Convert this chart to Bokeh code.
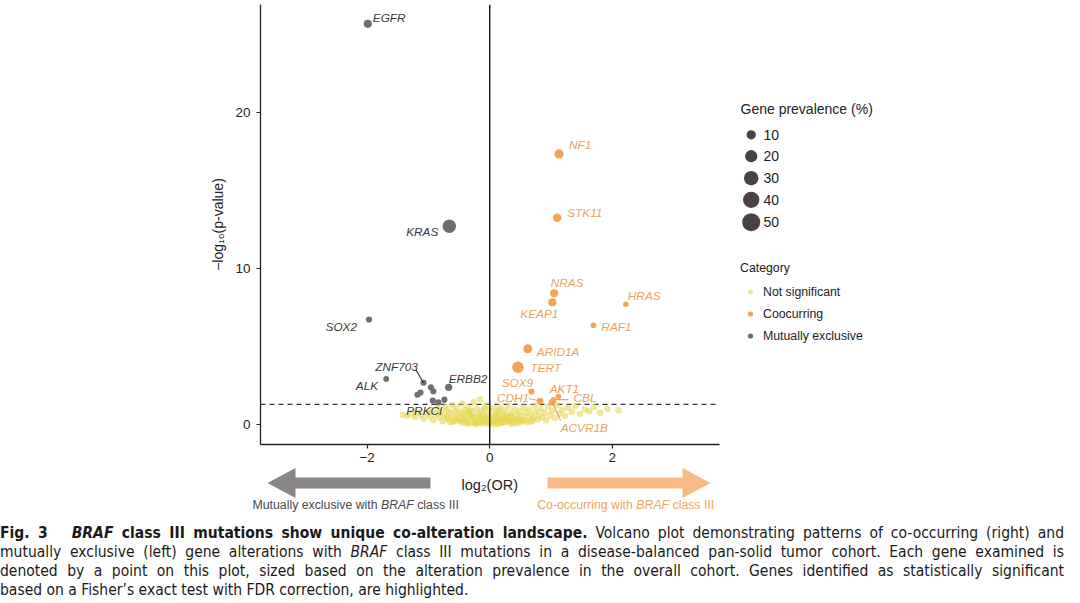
import math
from bokeh.plotting import figure
from bokeh.models import (Range1d, Span, Legend, LegendItem, ColumnDataSource,
                          Div, FixedTicker)
from bokeh.layouts import column
from bokeh.embed import file_html
from bokeh.resources import INLINE
from bokeh.core.properties import value

# ---------------- data ----------------
# mutually exclusive (grey) genes ("" = unlabeled)
mx_genes = ["EGFR", "KRAS", "SOX2", "ALK", "ERBB2", "ZNF703", "PRKCI", "", "", "", "", "", ""]
mx_log2or = [-1.99, -0.66, -1.97, -1.69, -0.67, -1.08, -0.84, -0.96, -0.92, -1.13, -1.18, -0.93, -0.74]
mx_logp = [25.72, 12.73, 6.74, 2.93, 2.39, 2.68, 1.43, 2.39, 2.14, 2.05, 1.91, 1.54, 1.60]
mx_prev = [7, 25, 3, 2.5, 5, 3, 3, 3, 3, 3, 3, 3, 3]

# co-occurring (orange) genes
co_genes = ["NF1", "STK11", "NRAS", "KEAP1", "HRAS", "RAF1", "ARID1A", "TERT",
            "SOX9", "CDH1", "AKT1", "CBL", "ACVR1B"]
co_log2or = [1.13, 1.10, 1.05, 1.02, 2.22, 1.69, 0.62, 0.46, 0.68, 0.82, 1.12, 1.04, 1.02]
co_logp = [17.37, 13.27, 8.43, 7.85, 7.72, 6.37, 4.86, 3.68, 2.12, 1.51, 1.80, 1.60, 1.43]
co_prev = [10, 8, 7, 7, 2, 2.5, 9, 17, 3, 4, 2, 2, 4]

# not significant genes
ns_log2or = [-1.42, -1.35, -1.28, -1.22, -1.18, -1.12, -1.08, -1.02, -0.98, -0.95, -0.92, -0.88,
             -0.85, -0.82, -0.80, -0.77, -0.74, -0.72, -0.70, -0.68, -0.66, -0.63, -0.61, -0.60,
             -0.58, -0.55, -0.53, -0.51, -0.49, -0.47, -0.45, -0.43, -0.41, -0.40, -0.38, -0.36,
             -0.34, -0.32, -0.30, -0.28, -0.26, -0.25, -0.23, -0.21, -0.19, -0.17, -0.16, -0.14,
             -0.12, -0.10, -0.08, -0.07, -0.05, -0.03, -0.02, 0.00, 0.02, 0.04, 0.06, 0.08, 0.10,
             0.12, 0.14, 0.16, 0.18, 0.20, 0.22, 0.24, 0.26, 0.28, 0.30, 0.32, 0.34, 0.36, 0.38,
             0.40, 0.42, 0.44, 0.46, 0.48, 0.50, 0.52, 0.55, 0.57, 0.59, 0.62, 0.64, 0.66, 0.68,
             0.71, 0.73, 0.75, 0.78, 0.80, 0.83, 0.86, 0.89, 0.92, 0.95, 0.98, 1.02, 1.06, 1.10,
             1.14, 1.18, 1.23, 1.28, 1.34, 1.40, 1.47, 1.55, 1.62, 1.70, 1.80, 1.92, 2.10,
             -0.35, -0.22, -0.12, -0.04, 0.05, 0.13, 0.21, 0.27, 0.33, 0.09, -0.18, -0.28, -0.42,
             0.43, 0.53, 0.15, -0.09, -0.31, -0.55, 0.60, 0.70, -0.65,
             -0.48, -0.37, -0.24, -0.11, 0.01, 0.11, 0.19, 0.31, 0.39, 0.49, -0.57, -0.71,
             -0.15, 0.25, 0.35, -0.44, 0.07, -0.01, 0.17, -0.33]
ns_logp = [0.62, 0.55, 0.70, 0.48, 0.80, 0.60, 0.38, 0.72, 0.52, 0.90, 0.30, 0.66,
           1.05, 0.45, 0.80, 0.22, 0.60, 1.15, 0.92, 0.35, 0.75, 0.50, 1.25, 0.18,
           0.88, 0.62, 1.05, 0.30, 0.78, 0.45, 1.35, 0.12, 0.95, 0.60, 0.28, 1.12,
           0.72, 0.40, 0.90, 0.10, 1.45, 0.55, 0.25, 1.00, 0.70, 0.38, 1.62, 0.08,
           0.85, 0.50, 0.22, 1.20, 0.62, 0.05, 0.35, 0.90, 0.15, 0.55, 1.05, 0.02, 0.30,
           0.75, 0.48, 1.12, 0.10, 0.62, 0.35, 0.92, 0.18, 0.50, 1.18, 0.28, 0.72, 0.05, 0.45,
           0.98, 0.22, 0.65, 0.38, 0.85, 0.12, 0.55, 1.10, 0.30, 0.75, 0.48, 0.95, 0.20, 0.62,
           0.40, 1.20, 0.80, 0.32, 0.58, 1.02, 0.45, 0.75, 0.28, 1.15, 0.60, 0.88, 0.42, 1.25,
           0.70, 0.95, 0.55, 1.08, 0.80, 1.20, 0.68, 0.98, 0.85, 1.12, 0.75, 1.00, 0.92,
           0.05, 0.02, 0.30, 0.45, 0.25, 0.05, 0.12, 0.40, 0.15, 0.65, 0.15, 0.48, 0.35,
           0.08, 0.25, 0.85, 1.00, 0.65, 0.40, 0.15, 0.25, 0.15,
           0.20, 0.15, 0.10, 0.12, 0.08, 0.20, 0.30, 0.22, 0.30, 0.35, 0.25, 0.45,
           0.55, 0.60, 0.55, 0.70, 0.40, 0.20, 0.32, 0.85]

sig_p = 0.05
x_ticks = [-2, 0, 2]
x_tick_labels = ["\u22122", "0", "2"]
y_ticks = [0, 10, 20]
y_tick_labels = ["0", "10", "20"]
size_legend_values = [10, 20, 30, 40, 50]
category_labels = ["Not significant", "Coocurring", "Mutually exclusive"]

caption_lines = [
    '<b>Fig. 3</b>&nbsp;&nbsp;&nbsp;<b><i>BRAF</i> class III mutations show unique co-alteration landscape.</b> '
    'Volcano plot demonstrating patterns of co-occurring (right) and',
    'mutually exclusive (left) gene alterations with <i>BRAF</i> class III mutations in a disease-balanced '
    'pan-solid tumor cohort. Each gene examined is',
    'denoted by a point on this plot, sized based on the alteration prevalence in the overall cohort. '
    'Genes identified as statistically significant',
    'based on a Fisher\u2019s exact test with FDR correction, are highlighted.',
]

# ---------------- label styling (pixel offsets from points) ----------------
# gene: (align, dx, dy, leader_dx, leader_dy)
label_style = {
    "EGFR": ("left", 5, -6, None, None),
    "KRAS": ("right", -11, 6, None, None),
    "SOX2": ("right", -12, 7, None, None),
    "ALK": ("right", -8, 7, None, None),
    "ERBB2": ("left", 0, -8, None, None),
    "ZNF703": ("center", -27, -16, -7.7, -13),
    "PRKCI": ("center", -14, 9, None, None),
    "NF1": ("left", 10, -9, None, None),
    "STK11": ("left", 10, -5, None, None),
    "NRAS": ("center", 13, -10, None, None),
    "KEAP1": ("center", -13, 12, None, None),
    "HRAS": ("left", 2, -8, None, None),
    "RAF1": ("left", 8, 2, None, None),
    "ARID1A": ("left", 9, 3.5, None, None),
    "TERT": ("left", 12.5, 1, None, None),
    "SOX9": ("center", -14, -9, None, None),
    "CDH1": ("left", -43, -3, -11, -2.5),
    "AKT1": ("center", 6, -8, None, None),
    "CBL": ("left", 20, -2, 15, 0),
    "ACVR1B": ("center", 32, 26, 8.3, 18.3),
}

# ---------------- geometry ----------------
FONT = "Liberation Sans"
W = 1064
BORDER_LEFT = 260
BORDER_TOP = 4
FRAME_LEFT_PAGE = 260
FRAME_BOTTOM_PAGE = 444
PPX = 61.3      # px per log2(OR) unit
PPY = 15.58     # px per -log10 p unit
X_MIN = -3.74
X_AXIS_MAX = 3.74
X_MAX = X_MIN + (W - BORDER_LEFT) / PPX
A_H = 467
FRAME_H = FRAME_BOTTOM_PAGE - BORDER_TOP
Y_MIN = -1.28
Y_MAX = Y_MIN + FRAME_H / PPY


def px2x(px):
    return X_MIN + (px - FRAME_LEFT_PAGE) / PPX


def py2y(py):
    return Y_MIN + (FRAME_BOTTOM_PAGE - py) / PPY


def prev_size(v):
    return 2.3 + 2.22 * math.sqrt(v)


GREY = "#6E6E6E"
ORANGE = "#F3A457"
YELLOW = "#E6D54A"
GREY_TXT = "#3A3A3A"
ORANGE_TXT = "#EDA25C"

p = figure(width=W, height=A_H, x_range=Range1d(X_MIN, X_MAX), y_range=Range1d(Y_MIN, Y_MAX),
           output_backend="svg", toolbar_location=None, tools="",
           min_border_left=BORDER_LEFT, min_border_right=0, min_border_top=BORDER_TOP,
           min_border_bottom=A_H - FRAME_BOTTOM_PAGE)
p.frame_align = False
p.outline_line_color = None
p.xgrid.visible = False
p.ygrid.visible = False
p.background_fill_color = "white"
p.border_fill_color = "white"

for ax in (p.xaxis[0], p.yaxis[0]):
    ax.axis_line_color = "#222222"
    ax.axis_line_width = 1.3
    ax.major_tick_line_color = "#222222"
    ax.major_tick_line_width = 1.2
    ax.major_tick_out = 4
    ax.major_tick_in = 0
    ax.minor_tick_line_color = None
    ax.major_label_text_font = FONT
    ax.major_label_text_font_size = "13.5px"
    ax.major_label_text_color = "#222222"

p.xaxis.ticker = FixedTicker(ticks=x_ticks)
p.xaxis.major_label_overrides = dict(zip(x_ticks, x_tick_labels))
p.xaxis.bounds = (X_MIN, X_AXIS_MAX)
p.xaxis.major_label_standoff = 4

p.yaxis.ticker = FixedTicker(ticks=y_ticks)
p.yaxis.major_label_overrides = dict(zip(y_ticks, y_tick_labels))
p.yaxis.major_label_standoff = 6
p.yaxis.axis_label = "\u2212log\u2081\u2080(p-value)"
p.yaxis.axis_label_text_font = FONT
p.yaxis.axis_label_text_font_size = "14px"
p.yaxis.axis_label_text_font_style = "normal"
p.yaxis.axis_label_text_color = "#222222"
p.yaxis.axis_label_standoff = 6

# reference lines
p.add_layout(Span(location=0, dimension="height", line_color="black", line_width=1.3))
thr = -math.log10(sig_p)
p.segment(x0=[X_MIN], x1=[X_AXIS_MAX], y0=[thr], y1=[thr], line_color="#333333",
          line_width=1.2, line_dash="5 4")

# points
r_ns = p.scatter(ns_log2or, ns_logp, size=6.5, fill_color=YELLOW, fill_alpha=0.55, line_color=None)
r_co = p.scatter(co_log2or, co_logp, size=[prev_size(v) for v in co_prev],
                 fill_color=ORANGE, line_color=None)
r_mx = p.scatter(mx_log2or, mx_logp, size=[prev_size(v) for v in mx_prev],
                 fill_color=GREY, line_color=None)


def add_labels(genes, xs, ys, color):
    groups = {}
    seg = dict(x0=[], y0=[], x1=[], y1=[])
    for g, x, y in zip(genes, xs, ys):
        if not g:
            continue
        align, dx, dy, lx, ly = label_style[g]
        d = groups.setdefault(align, dict(x=[], y=[], t=[], dx=[], dy=[]))
        d["x"].append(x); d["y"].append(y); d["t"].append(g)
        d["dx"].append(dx); d["dy"].append(dy)
        if lx is not None:
            seg["x0"].append(x + lx / PPX); seg["y0"].append(y - ly / PPY)
            seg["x1"].append(x); seg["y1"].append(y)
    if seg["x0"]:
        p.segment(x0="x0", y0="y0", x1="x1", y1="y1", source=ColumnDataSource(seg),
                  line_color=color, line_width=1.2)
    for align, d in groups.items():
        p.text(x="x", y="y", text="t", x_offset="dx", y_offset="dy",
               source=ColumnDataSource(d), text_align=align, text_baseline="middle",
               text_font=value(FONT), text_font_style="italic", text_font_size="11.8px",
               text_color=color)


add_labels(mx_genes, mx_log2or, mx_logp, GREY_TXT)
add_labels(co_genes, co_log2or, co_logp, ORANGE_TXT)

# size legend (drawn in the plot's right-hand area)
leg_rows_py = [134.3, 155.7, 177.7, 199.3, 221.7]
p.text(x=[px2x(740)], y=[py2y(108)], text=["Gene prevalence (%)"], text_align="left",
       text_baseline="middle", text_font=value(FONT), text_font_size="14px", text_color="#222222")
p.scatter([px2x(750.7)] * len(size_legend_values), [py2y(v) for v in leg_rows_py],
          size=[prev_size(v) for v in size_legend_values], fill_color="#4A4242", line_color=None)
p.text(x=[px2x(763)] * len(size_legend_values), y=[py2y(v) for v in leg_rows_py],
       text=[str(v) for v in size_legend_values], text_align="left", text_baseline="middle",
       text_font=value(FONT), text_font_size="14px", text_color="#222222")

# category legend
legend = Legend(items=[LegendItem(label=category_labels[0], renderers=[r_ns]),
                       LegendItem(label=category_labels[1], renderers=[r_co]),
                       LegendItem(label=category_labels[2], renderers=[r_mx])],
                location=(480, 101.5), title="Category")
legend.title_text_font = FONT
legend.title_text_font_size = "12.3px"
legend.title_text_font_style = "normal"
legend.title_text_color = "#222222"
legend.title_standoff = 10
legend.label_text_font = FONT
legend.label_text_font_size = "12.3px"
legend.label_text_color = "#222222"
legend.glyph_width = 20
legend.glyph_height = 13
legend.label_height = 13
legend.label_standoff = 3
legend.spacing = 8
legend.padding = 0
legend.margin = 0
legend.background_fill_alpha = 0
legend.border_line_color = None
p.add_layout(legend)

# ---------------- arrow strip (page-pixel coordinates) ----------------
B_TOP = A_H
B_H = 51
pb = figure(width=W, height=B_H, x_range=Range1d(0, W), y_range=Range1d(B_TOP + B_H, B_TOP),
            output_backend="svg", toolbar_location=None, tools="",
            min_border_left=0, min_border_right=0, min_border_top=0, min_border_bottom=0)
pb.frame_align = False
pb.axis.visible = False
pb.xgrid.visible = False
pb.ygrid.visible = False
pb.outline_line_color = None
pb.background_fill_color = "white"
pb.border_fill_color = "white"

zero_px = FRAME_LEFT_PAGE + (0 - X_MIN) * PPX
cy = 482.5
head_h = 15
body_h = 5.5
tip_l, base_l, inner_l = 267, 295, 430
tip_r, base_r, inner_r = 710, 682, 547
pb.patch([tip_l, base_l, base_l, inner_l, inner_l, base_l, base_l],
         [cy, cy - head_h, cy - body_h, cy - body_h, cy + body_h, cy + body_h, cy + head_h],
         fill_color="#8B8686", line_color=None)
pb.patch([tip_r, base_r, base_r, inner_r, inner_r, base_r, base_r],
         [cy, cy - head_h, cy - body_h, cy - body_h, cy + body_h, cy + body_h, cy + head_h],
         fill_color="#F8BA84", line_color=None)

pb.text(x=[zero_px], y=[484], text=["log\u2082(OR)"], text_align="center", text_baseline="middle",
        text_font=value(FONT), text_font_size="14.5px", text_color="#222222")

ty = 504
for (x_px, color, first, w1) in ((252, "#4A4A4A", "Mutually exclusive with", 128.5),
                                 (536.7, "#EFA462", "Co-occurring with", 99.1)):
    pb.text(x=[x_px], y=[ty], text=[first], text_align="left", text_baseline="middle",
            text_font=value(FONT), text_font_size="12.3px", text_color=color)
    pb.text(x=[x_px + w1], y=[ty], text=["BRAF"], text_align="left", text_baseline="middle",
            text_font=value(FONT), text_font_style="italic", text_font_size="12.3px", text_color=color)
    pb.text(x=[x_px + w1 + 32.8 + 3.4], y=[ty], text=["class III"], text_align="left",
            text_baseline="middle", text_font=value(FONT), text_font_size="12.3px", text_color=color)

# ---------------- caption ----------------
line_css = ("text-align:justify;text-align-last:justify;white-space:nowrap;overflow:hidden;")
last_css = "text-align:left;white-space:nowrap;overflow:hidden;"
html = ('<div style="font-family:\'Liberation Sans Narrow\',\'DejaVu Sans Condensed\',\'Roboto\',sans-serif;'
        'font-size:15.5px;line-height:19px;color:#1a1a1a;padding-top:6px;width:1064px;">')
for i, ln in enumerate(caption_lines):
    css = last_css if i == len(caption_lines) - 1 else line_css
    html += f'<div style="{css}">{ln}</div>'
html += '</div>'
cap = Div(text=html, width=W, height=84, margin=(0, 0, 0, 0))

layout = column(p, pb, cap, spacing=0)
open("out.html", "w").write(file_html(layout, INLINE))
